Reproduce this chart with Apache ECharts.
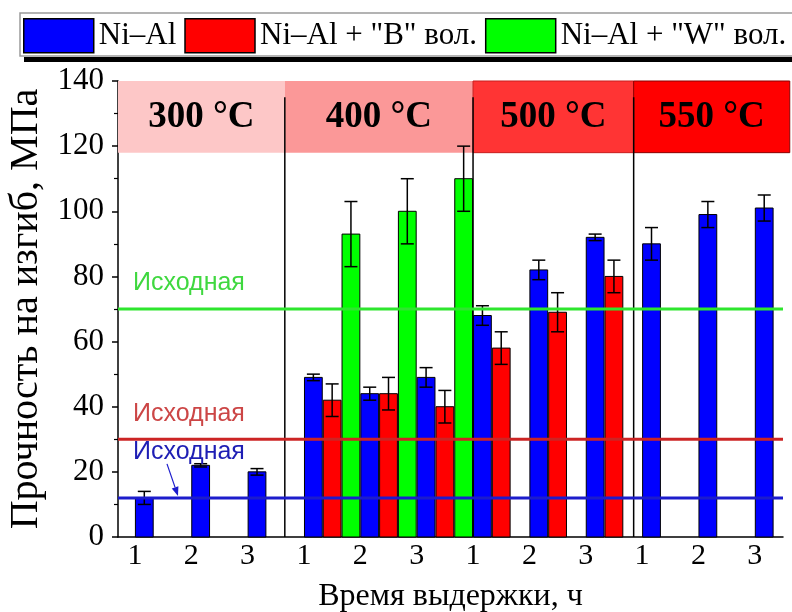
<!DOCTYPE html>
<html>
<head>
<meta charset="utf-8">
<script src="https://cdn.jsdelivr.net/npm/echarts@6/dist/echarts.min.js"></script>
<style>
  html, body { margin: 0; padding: 0; background: #fff; }
  #chart { width: 792px; height: 612px; }
</style>
</head>
<body>
<div id="chart"></div>
<script>
// Holding time (h) of each group, three groups per annealing temperature
const hourLabels = ['1', '2', '3', '1', '2', '3', '1', '2', '3', '1', '2', '3'];
const tempLabels = ['300 °C', '400 °C', '500 °C', '550 °C'];
const seriesNames = ['Ni–Al', 'Ni–Al + "B" вол.', 'Ni–Al + "W" вол.'];

// Bending strength, MPa, and its scatter (±)
const niAl      = [12, 22, 20, 49, 44, 49, 68, 82, 92, 90, 99, 101];
const niAlErr   = [2, 0.5, 1, 1, 2, 3, 3, 3, 1, 5, 4, 4];
const niAlB     = [null, null, null, 42, 44, 40, 58, 69, 80, null, null, null];
const niAlBErr  = [null, null, null, 5, 5, 5, 5, 6, 5, null, null, null];
const niAlW     = [null, null, null, 93, 100, 110, null, null, null, null, null, null];
const niAlWErr  = [null, null, null, 10, 10, 10, null, null, null, null, null, null];

// Initial strength of each material before annealing, MPa
const initialLabel = 'Исходная';
const initialValues = [70, 30, 12]; // "W" fibres, "B" fibres, plain Ni–Al

// ---- layout & styling ----
const SERIF = '"Liberation Serif", "Times New Roman", serif';
const SANS = '"Liberation Sans", Arial, sans-serif';
const barColors = ['#0000ff', '#ff0000', '#00ff00'];
const X_MIN = 0.7, X_MAX = 12.5;
const sectionEdges = [0.7, 3.66, 7.0, 9.85, 12.62];
const bandFill = ['#fdc7c7', '#fb9898', '#ff3434', '#ff0000'];
const bandStroke = [null, null, '#c81e1e', '#8a0000'];
const BAND_LOW = 118, BAND_HIGH = 140, DIVIDER_TOP = 135;
const lineColors = ['#2ee62e', '#cc2424', '#1c1ccc'];
const textColors = ['#3fd83f', '#cc4646', '#1e1eb4'];
const labelRise = [26, 25, 46];

function barSeries(idx, values, errs) {
  const data = [];
  values.forEach((v, i) => { if (v != null) data.push([i + 1, v, errs[i]]); });
  const color = barColors[idx];
  return {
    type: 'custom',
    name: seriesNames[idx],
    z: 3,
    itemStyle: { color: color, borderColor: '#000', borderWidth: 1 },
    encode: { x: 0, y: 1 },
    data: data,
    renderItem: function (params, api) {
      const k = api.value(0), v = api.value(1), e = api.value(2);
      const p0 = api.coord([k + idx / 3, 0]);
      const p1 = api.coord([k + (idx + 1) / 3, v]);
      const left = p0[0], right = p1[0], base = p0[1], top = p1[1];
      const cx = (left + right) / 2;
      const hi = api.coord([k, v + e])[1];
      const lo = api.coord([k, v - e])[1];
      const cap = 6.5;
      const st = { stroke: '#000', lineWidth: 1.5 };
      return {
        type: 'group',
        children: [
          { type: 'rect', shape: { x: left + 0.5, y: top, width: right - left - 1, height: base - top },
            style: { fill: color, stroke: '#000', lineWidth: 1 } },
          { type: 'line', z2: 5, shape: { x1: cx, y1: hi, x2: cx, y2: lo }, style: st },
          { type: 'line', z2: 5, shape: { x1: cx - cap, y1: hi, x2: cx + cap, y2: hi }, style: st },
          { type: 'line', z2: 5, shape: { x1: cx - cap, y1: lo, x2: cx + cap, y2: lo }, style: st }
        ]
      };
    }
  };
}

const bandSeries = {
  type: 'custom',
  z: 1,
  silent: true,
  clip: false,
  data: tempLabels.map((t, i) => [i]),
  renderItem: function (params, api) {
    const i = api.value(0);
    const a = api.coord([sectionEdges[i], BAND_HIGH]);
    const b = api.coord([sectionEdges[i + 1], BAND_LOW]);
    const children = [
      { type: 'rect', shape: { x: a[0], y: a[1], width: b[0] - a[0], height: b[1] - a[1] },
        style: { fill: bandFill[i], stroke: bandStroke[i], lineWidth: bandStroke[i] ? 1 : 0 } },
      { type: 'text', z2: 3,
        style: { text: tempLabels[i], x: (a[0] + b[0]) / 2, y: (a[1] + b[1]) / 2 + 1,
          align: 'center', verticalAlign: 'middle',
          font: 'bold 37px ' + SERIF, fill: '#000' } }
    ];
    if (i > 0) {
      const d0 = api.coord([sectionEdges[i], 0]);
      const d1 = api.coord([sectionEdges[i], DIVIDER_TOP]);
      children.push({ type: 'line', z2: 4, shape: { x1: d0[0], y1: d0[1], x2: d1[0], y2: d1[1] },
        style: { stroke: '#000', lineWidth: 1.5 } });
    }
    return { type: 'group', children: children };
  }
};

const initialSeries = {
  type: 'custom',
  z: 4,
  silent: true,
  data: initialValues.map((v, i) => [i, v]),
  encode: { y: 1 },
  renderItem: function (params, api) {
    const i = api.value(0), v = api.value(1);
    const cs = params.coordSys;
    const y = api.coord([X_MIN, v])[1];
    const children = [
      { type: 'line', shape: { x1: cs.x, y1: y, x2: cs.x + cs.width, y2: y },
        style: { stroke: lineColors[i], lineWidth: 3 } },
      { type: 'text', style: { text: initialLabel, x: cs.x + 15, y: y - labelRise[i],
          align: 'left', verticalAlign: 'middle', font: '25px ' + SANS, fill: textColors[i] } }
    ];
    if (i === 2) {
      // pointer from the caption down to its level line
      const x1 = cs.x + 49, y1 = y - 34, x2 = cs.x + 60, y2 = y - 2;
      const ang = Math.atan2(y2 - y1, x2 - x1);
      const hl = 9, hw = 3.5;
      const bx = x2 - hl * Math.cos(ang), by = y2 - hl * Math.sin(ang);
      const nx = -Math.sin(ang) * hw, ny = Math.cos(ang) * hw;
      children.push(
        { type: 'line', shape: { x1: x1, y1: y1, x2: bx, y2: by }, style: { stroke: lineColors[i], lineWidth: 1.2 } },
        { type: 'polygon', shape: { points: [[x2, y2], [bx + nx, by + ny], [bx - nx, by - ny]] },
          style: { fill: lineColors[i] } }
      );
    }
    return { type: 'group', children: children };
  }
};

const chart = echarts.init(document.getElementById('chart'), null, { renderer: 'canvas' });
chart.setOption({
  animation: false,
  backgroundColor: '#fff',
  graphic: [
    { type: 'rect', z: 0, shape: { x: 20, y: 13, width: 800, height: 43 },
      style: { fill: '#fff', stroke: '#9a9a9a', lineWidth: 1.5 } },
    { type: 'rect', z: 0, shape: { x: 24, y: 57, width: 800, height: 5 },
      style: { fill: '#000' } }
  ],
  legend: {
    left: 18, top: 13,
    itemWidth: 70, itemHeight: 34, itemGap: 8,
    icon: 'rect',
    selectedMode: false,
    itemStyle: { borderColor: '#000', borderWidth: 1.5 },
    textStyle: { fontFamily: SERIF, fontSize: 31, color: '#000', padding: [2, 0, 0, 0] },
    data: seriesNames
  },
  grid: { left: 118, right: 9, top: 81, bottom: 75, containLabel: false, outerBoundsMode: 'none' },
  xAxis: {
    type: 'value', min: X_MIN, max: X_MAX,
    splitLine: { show: false },
    axisTick: { show: false },
    axisLine: { show: true, onZero: false, lineStyle: { color: '#000', width: 1.5 } },
    axisLabel: {
      customValues: hourLabels.map((_, i) => i + 1),
      formatter: v => hourLabels[Math.round(v) - 1],
      fontFamily: SERIF, fontSize: 30, color: '#000', margin: 4
    },
    name: 'Время выдержки, ч', nameLocation: 'middle', nameGap: 44,
    nameTextStyle: { fontFamily: SERIF, fontSize: 32, color: '#000' }
  },
  yAxis: {
    type: 'value', min: 0, max: 140, interval: 20,
    splitLine: { show: false },
    axisLine: { show: true, lineStyle: { color: '#000', width: 1.5 } },
    axisTick: { show: true, inside: false, length: 6, lineStyle: { color: '#000', width: 1.5 } },
    minorTick: { show: true, splitNumber: 2, length: 4, lineStyle: { color: '#000', width: 1.2 } },
    axisLabel: { fontFamily: SERIF, fontSize: 31, color: '#000', margin: 14 },
    name: 'Прочность на изгиб, МПа', nameLocation: 'middle', nameGap: 69,
    nameTextStyle: { fontFamily: SERIF, fontSize: 40, color: '#000' }
  },
  series: [
    bandSeries,
    barSeries(0, niAl, niAlErr),
    barSeries(1, niAlB, niAlBErr),
    barSeries(2, niAlW, niAlWErr),
    initialSeries
  ]
});
</script>
</body>
</html>
